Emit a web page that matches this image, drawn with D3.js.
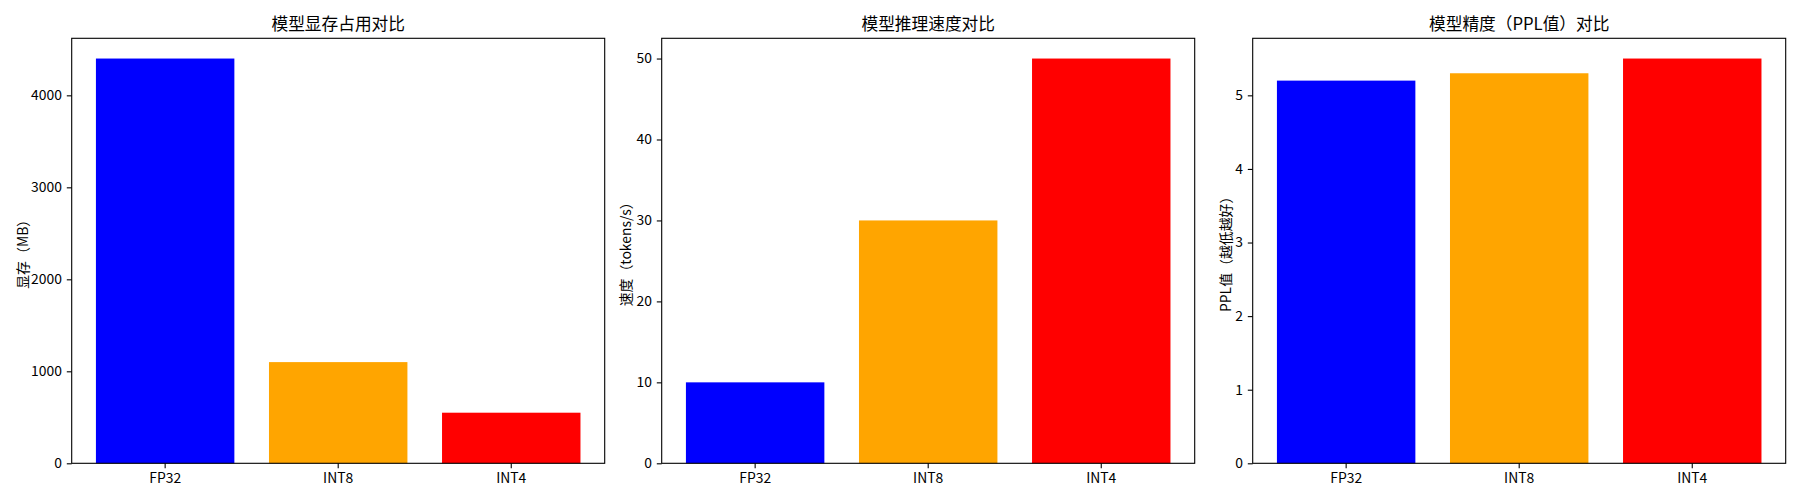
<!DOCTYPE html>
<html>
<head>
<meta charset="utf-8">
<script src="https://cdn.jsdelivr.net/npm/d3@7"></script>
<style>
  html, body { margin: 0; padding: 0; background: #fff; }
  svg { display: block; }
  text { font-family: "Noto Sans CJK SC", "Noto Sans", sans-serif; fill: #000; }
</style>
</head>
<body>
<svg id="chart" width="1800" height="500"></svg>
<script>
// ---- data ----
const categories = ["FP32", "INT8", "INT4"];
const barColors = ["blue", "orange", "red"];
const memoryValues = [4400, 1100, 550];
const speedValues = [10, 30, 50];
const pplValues = [5.2, 5.3, 5.5];
const titles = ["模型显存占用对比", "模型推理速度对比", "模型精度（PPL值）对比"];
const yLabels = ["显存（MB）", "速度（tokens/s）", "PPL值（越低越好）"];
const memoryTicks = [0, 1000, 2000, 3000, 4000];
const speedTicks = [0, 10, 20, 30, 40, 50];
const pplTicks = [0, 1, 2, 3, 4, 5];

const panels = [
  { values: memoryValues, ticks: memoryTicks },
  { values: speedValues, ticks: speedTicks },
  { values: pplValues, ticks: pplTicks }
];

// ---- layout ----
const svg = d3.select("#chart");
const lefts = [71.7, 661.7, 1252.7];
const plotW = 533;
const plotTop = 38.3;
const plotH = 425;
const tickLen = 4.9;
const tickPad = 4.9;
const fontSize = 13.9;
const titleSize = 16.7;
const ylabelOffsets = [50, 37, 28];

panels.forEach((p, i) => {
  const g = svg.append("g").attr("transform", `translate(${lefts[i]},${plotTop})`);
  const x = d3.scaleBand().domain(categories).range([0, plotW])
    .paddingInner(0.2).paddingOuter(0.14);
  const yMax = d3.max(p.values) * 1.05;
  const y = d3.scaleLinear().domain([0, yMax]).range([plotH, 0]);

  g.selectAll("rect.bar").data(p.values).enter().append("rect")
    .attr("class", "bar")
    .attr("x", (d, j) => x(categories[j]))
    .attr("width", x.bandwidth())
    .attr("y", d => y(d))
    .attr("height", d => plotH - y(d))
    .attr("fill", (d, j) => barColors[j]);

  const yAxis = g.append("g").call(
    d3.axisLeft(y).tickValues(p.ticks).tickSize(tickLen).tickPadding(tickPad)
      .tickFormat(d3.format("d")));
  yAxis.select(".domain").remove();
  yAxis.selectAll("line").attr("stroke", "#000").attr("stroke-width", 1.1);
  yAxis.selectAll("text").attr("font-size", fontSize)
    .attr("font-family", '"Noto Sans CJK SC", sans-serif').attr("fill", "#000");

  const xAxis = g.append("g").attr("transform", `translate(0,${plotH})`).call(
    d3.axisBottom(x).tickSize(tickLen).tickPadding(tickPad));
  xAxis.select(".domain").remove();
  xAxis.selectAll("line").attr("stroke", "#000").attr("stroke-width", 1.1);
  xAxis.selectAll("text").attr("font-size", fontSize)
    .attr("font-family", '"Noto Sans CJK SC", sans-serif').attr("fill", "#000");

  g.append("rect").attr("x", 0).attr("y", 0).attr("width", plotW).attr("height", plotH)
    .attr("fill", "none").attr("stroke", "#000").attr("stroke-width", 1.1);

  g.append("text").attr("x", plotW / 2).attr("y", -8.3)
    .attr("text-anchor", "middle").attr("font-size", titleSize)
    .text(titles[i]);

  g.append("text")
    .attr("transform", `translate(${-ylabelOffsets[i]},${plotH / 2}) rotate(-90)`)
    .attr("text-anchor", "middle").attr("dominant-baseline", "central")
    .attr("font-size", fontSize)
    .text(yLabels[i]);
});
</script>
</body>
</html>
